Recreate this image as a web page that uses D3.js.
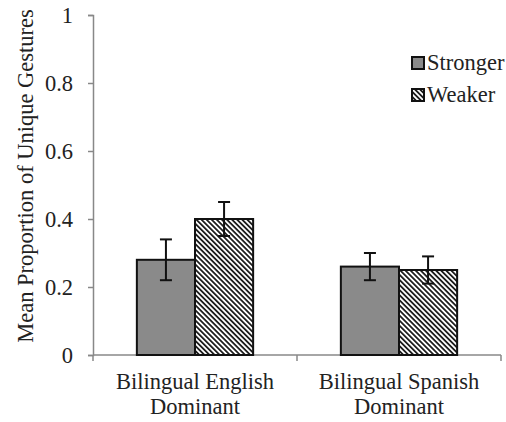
<!DOCTYPE html>
<html>
<head>
<meta charset="utf-8">
<script src="https://cdn.jsdelivr.net/npm/d3@7"></script>
<style>
  body { margin: 0; background: #fff; }
  svg text { font-family: 'Liberation Serif', serif; fill: #222; }
</style>
</head>
<body>
<svg width="506" height="422"></svg>
<script>
const groups = ["Bilingual English Dominant", "Bilingual Spanish Dominant"];
const groupLines = [["Bilingual English", "Dominant"], ["Bilingual Spanish", "Dominant"]];
const series = ["Stronger", "Weaker"];
const stronger = [0.28, 0.26];
const weaker = [0.40, 0.25];
const strongerErr = [0.06, 0.04];
const weakerErr = [0.05, 0.04];
const yTicks = [0, 0.2, 0.4, 0.6, 0.8, 1];

const svg = d3.select("svg"),
    margin = {top: 15, right: 5, bottom: 67, left: 93},
    width = +svg.attr("width") - margin.left - margin.right,
    height = +svg.attr("height") - margin.top - margin.bottom;

const serif = "'Liberation Serif', serif";
const fs = "22.5px";

// hatch pattern for the Weaker bars
const defs = svg.append("defs");
defs.append("pattern")
    .attr("id", "hatch")
    .attr("patternUnits", "userSpaceOnUse")
    .attr("width", 3.6).attr("height", 3.6)
    .attr("patternTransform", "rotate(45)")
  .call(p => {
    p.append("rect").attr("width", 3.6).attr("height", 3.6).attr("fill", "#fff");
    p.append("line").attr("x1", 0).attr("y1", 1.8).attr("x2", 3.6).attr("y2", 1.8)
      .attr("stroke", "#111").attr("stroke-width", 1.7);
  });

const chart = svg.append("g").attr("transform", `translate(${margin.left},${margin.top})`);

const data = groups.map((g, i) => ({
  group: g,
  values: [
    {key: "Stronger", value: stronger[i], err: strongerErr[i]},
    {key: "Weaker", value: weaker[i], err: weakerErr[i]}
  ]
}));

const x0 = d3.scaleBand().domain(groups).range([0, width]).paddingInner(0.43).paddingOuter(0.215);
const x1 = d3.scaleBand().domain(series).range([0, x0.bandwidth()]);
const y = d3.scaleLinear().domain([0, 1]).range([height, 0]);
const fill = d3.scaleOrdinal().domain(series).range(["#8a8a8a", "url(#hatch)"]);

// axes
const yAxis = chart.append("g").call(d3.axisLeft(y).tickValues(yTicks).tickSize(5).tickFormat(d => d3.format("~g")(d)));
yAxis.attr("font-family", serif);
yAxis.select(".domain").attr("stroke", "#888").attr("stroke-width", 1.5);
yAxis.selectAll(".tick line").attr("stroke", "#888").attr("stroke-width", 1.5);
yAxis.selectAll(".tick text").attr("x", -20).attr("dy", "0.35em")
    .style("font-size", fs).style("font-family", serif).attr("fill", "#222");

const xAxisG = chart.append("g").attr("transform", `translate(0,${height})`);
xAxisG.append("line").attr("x1", 0).attr("x2", width).attr("stroke", "#888").attr("stroke-width", 1.5);
xAxisG.selectAll(".xt")
    .data([0, width / 2, width])
    .join("line")
    .attr("x1", d => d).attr("x2", d => d).attr("y1", 0).attr("y2", 6)
    .attr("stroke", "#888").attr("stroke-width", 1.5);

// bars
const bar = chart.append("g").selectAll("g")
    .data(data)
    .join("g")
    .attr("transform", d => `translate(${x0(d.group)},0)`);

bar.selectAll("rect")
    .data(d => d.values)
    .join("rect")
    .attr("x", d => x1(d.key))
    .attr("y", d => y(d.value))
    .attr("width", x1.bandwidth())
    .attr("height", d => height - y(d.value))
    .attr("fill", d => fill(d.key))
    .attr("stroke", "#111")
    .attr("stroke-width", 2);

// error bars
const eb = bar.selectAll("g.err")
    .data(d => d.values)
    .join("g")
    .attr("class", "err")
    .attr("stroke", "#111")
    .attr("stroke-width", 2);
const cx = d => x1(d.key) + x1.bandwidth() / 2;
eb.append("line").attr("x1", cx).attr("x2", cx)
    .attr("y1", d => y(d.value + d.err)).attr("y2", d => y(d.value - d.err));
eb.append("line").attr("x1", d => cx(d) - 6).attr("x2", d => cx(d) + 6)
    .attr("y1", d => y(d.value + d.err)).attr("y2", d => y(d.value + d.err));
eb.append("line").attr("x1", d => cx(d) - 6).attr("x2", d => cx(d) + 6)
    .attr("y1", d => y(d.value - d.err)).attr("y2", d => y(d.value - d.err));

// x labels
chart.append("g").selectAll("text")
    .data(groups)
    .join("text")
    .attr("x", d => x0(d) + x0.bandwidth() / 2)
    .attr("y", height + 34)
    .attr("text-anchor", "middle")
    .style("font-size", fs)
    .style("font-family", serif)
    .each(function(d, i) {
      groupLines[i].forEach((line, j) => {
        d3.select(this).append("tspan")
          .attr("x", x0(d) + x0.bandwidth() / 2)
          .attr("dy", j === 0 ? 0 : 25)
          .text(line);
      });
    });

// y title
svg.append("text")
    .attr("transform", `translate(33,${margin.top + height / 2 - 9}) rotate(-90)`)
    .attr("text-anchor", "middle")
    .style("font-size", fs)
    .style("font-family", serif)
    .text("Mean Proportion of Unique Gestures");

// Legend
const legend = svg.append("g")
    .attr("transform", "translate(412,57)")
    .selectAll("g")
    .data(series)
    .join("g")
    .attr("transform", (d, i) => `translate(0,${i * 32})`);

legend.append("rect")
    .attr("width", 12).attr("height", 12)
    .attr("fill", d => fill(d))
    .attr("stroke", "#111").attr("stroke-width", 2);

legend.append("text")
    .attr("x", 15).attr("y", 13)
    .style("font-size", fs)
    .style("font-family", serif)
    .text(d => d);
</script>
</body>
</html>
